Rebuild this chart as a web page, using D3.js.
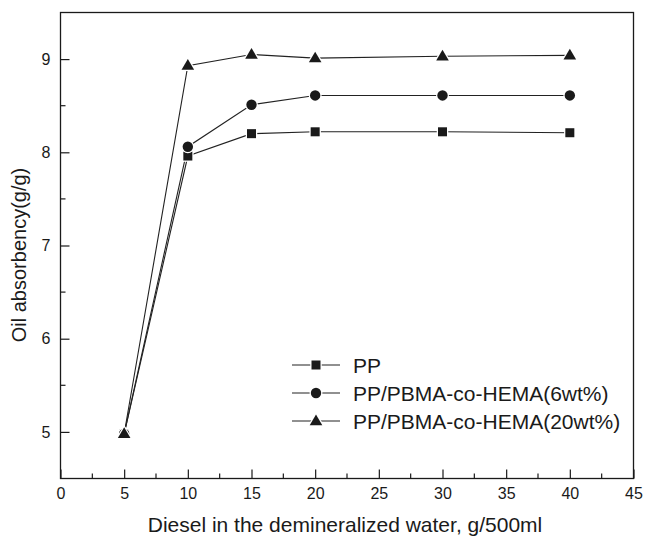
<!DOCTYPE html>
<html><head><meta charset="utf-8">
<script src="https://cdn.jsdelivr.net/npm/d3@7"></script>
<style>body{margin:0;background:#fff}svg{display:block}text{font-family:"Liberation Sans",Arial,sans-serif;fill:#1a1a1a}</style>
</head><body><svg id="c" width="646" height="536"></svg>
<script>
const xValues = [5, 10, 15, 20, 30, 40];
const ppValues = [4.98, 7.96, 8.20, 8.22, 8.22, 8.21];
const pbma6Values = [4.98, 8.06, 8.51, 8.61, 8.61, 8.61];
const pbma20Values = [4.98, 8.93, 9.05, 9.01, 9.03, 9.04];
const seriesNames = ["PP", "PP/PBMA-co-HEMA(6wt%)", "PP/PBMA-co-HEMA(20wt%)"];
const seriesShapes = ["square", "circle", "triangle"];
const xTicks = [0, 5, 10, 15, 20, 25, 30, 35, 40, 45];
const yTicks = [5, 6, 7, 8, 9];
const xTitle = "Diesel in the demineralized water, g/500ml";
const yTitle = "Oil absorbency(g/g)";

const svg = d3.select("#c");
const L = 60.5, R = 633.5, T = 12.5, B = 478.5;
const x = d3.scaleLinear().domain([0, 45]).range([L, R]);
const y = d3.scaleLinear().domain([4.5, 9.5]).range([B, T]);
const ink = "#1a1a1a";
const ff = '"Liberation Sans",Arial,sans-serif';

svg.append("rect").attr("x", L).attr("y", T).attr("width", R - L).attr("height", B - T)
  .attr("fill", "none").attr("stroke", ink).attr("stroke-width", 1.3);

// x axis
const xa = svg.append("g").attr("transform", `translate(0,${B})`)
  .call(d3.axisBottom(x).tickValues(xTicks).tickSize(-9).tickPadding(9).tickFormat(d3.format("d")));
xa.attr("font-size", 16).attr("font-family", ff);
xa.select(".domain").remove();
xa.selectAll("line").attr("stroke", ink).attr("stroke-width", 1.2);
xa.selectAll("text").attr("fill", ink);
const xMinor = d3.range(2.5, 45, 5);
svg.append("g").selectAll("line").data(xMinor).join("line")
  .attr("x1", d => x(d)).attr("x2", d => x(d)).attr("y1", B).attr("y2", B - 5)
  .attr("stroke", ink).attr("stroke-width", 1.2);

// y axis
const ya = svg.append("g").attr("transform", `translate(${L},0)`)
  .call(d3.axisLeft(y).tickValues(yTicks).tickSize(-9).tickPadding(10).tickFormat(d3.format("d")));
ya.attr("font-size", 16).attr("font-family", ff);
ya.select(".domain").remove();
ya.selectAll("line").attr("stroke", ink).attr("stroke-width", 1.2);
ya.selectAll("text").attr("fill", ink);
const yMinor = [5.5, 6.5, 7.5, 8.5];
svg.append("g").selectAll("line").data(yMinor).join("line")
  .attr("x1", L).attr("x2", L + 5).attr("y1", d => y(d)).attr("y2", d => y(d))
  .attr("stroke", ink).attr("stroke-width", 1.2);

// titles
svg.append("text").attr("x", 345).attr("y", 532).attr("text-anchor", "middle")
  .attr("font-size", 21).text(xTitle);
svg.append("text").attr("transform", `translate(25.5,255) rotate(-90)`)
  .attr("text-anchor", "middle").attr("font-size", 20).text(yTitle);

const allSeries = [ppValues, pbma6Values, pbma20Values];
const line = d3.line().x((d, i) => x(xValues[i])).y(d => y(d));

function marker(g, shape) {
  if (shape === "square") return g.append("rect").attr("x", -4.5).attr("y", -4.5).attr("width", 9).attr("height", 9);
  if (shape === "circle") return g.append("circle").attr("r", 5.2);
  return g.append("path").attr("d", "M0,-6.5L6.3,4.2L-6.3,4.2Z");
}

allSeries.forEach((vals) => {
  svg.append("path").datum(vals).attr("d", line).attr("fill", "none")
    .attr("stroke", "#222").attr("stroke-width", 1.1);
});
allSeries.forEach((vals, si) => {
  vals.forEach((v, i) => {
    const g = svg.append("g").attr("transform", `translate(${x(xValues[i])},${y(v)})`);
    marker(g, seriesShapes[si]).attr("fill", ink).attr("stroke", "#fff").attr("stroke-width", 2.5)
      .attr("paint-order", "stroke");
  });
});

// legend
const legY = [365, 393, 421];
seriesNames.forEach((name, i) => {
  const g = svg.append("g").attr("transform", `translate(0,${legY[i]})`);
  g.append("line").attr("x1", 292).attr("x2", 340).attr("y1", 0).attr("y2", 0)
    .attr("stroke", "#222").attr("stroke-width", 1.1);
  const mg = g.append("g").attr("transform", "translate(316,0)");
  marker(mg, seriesShapes[i]).attr("fill", ink).attr("stroke", "#fff").attr("stroke-width", 2.5)
    .attr("paint-order", "stroke");
  g.append("text").attr("x", 353).attr("y", 7.5).attr("font-size", 21).text(name);
});
</script></body></html>
